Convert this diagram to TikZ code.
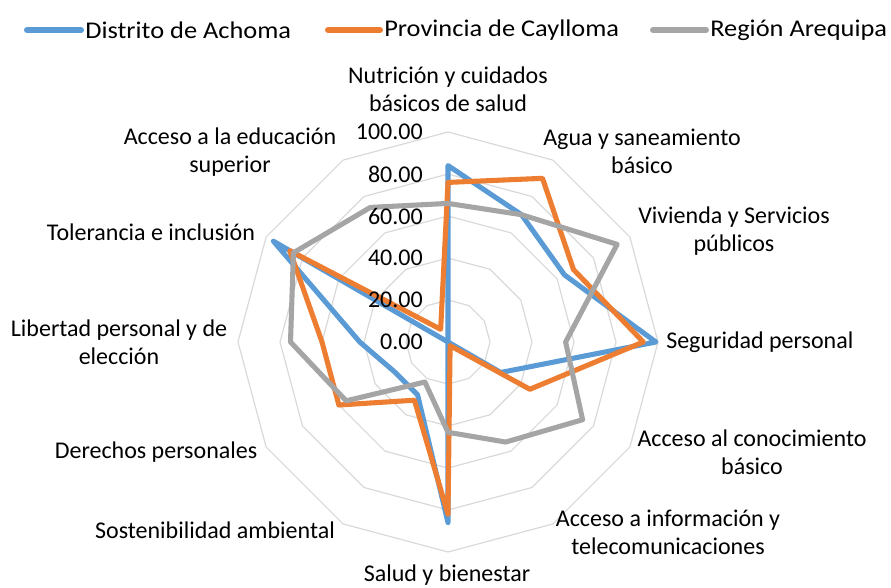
\documentclass[tikz,border=0pt]{standalone}
\usepackage{fontspec}
\setmainfont{Carlito}
\definecolor{achoma}{HTML}{5B9BD5}
\definecolor{caylloma}{HTML}{ED7D31}
\definecolor{arequipa}{HTML}{A5A5A5}
\definecolor{gridgray}{HTML}{D9D9D9}
\tikzset{
  gridring/.style={draw=gridgray, line width=0.9pt},
  serie/.style={draw=#1, line width=3.8pt, line join=round, line cap=round},
  legline/.style={draw=#1, line width=4.5pt, line cap=round},
  txt/.style={inner sep=0pt, font=\fontsize{18}{21}\selectfont},
  axislabel/.style={txt, align=center},
  ticklabel/.style={txt, anchor=east},
}
\newcommand{\legtext}[1]{\scalebox{1.1}[1]{#1}}
\begin{document}
\begin{tikzpicture}[x=0.75pt, y=-0.75pt]
    \useasboundingbox (0,0) rectangle (891,587);
    % legend
    \coordinate (legA) at (27,30);
    \coordinate (legC) at (328,30);
    \coordinate (legR) at (653,30);
    \node[txt, anchor=west] (legAtext) at (85,30) {\legtext{Distrito de Achoma}};
    \node[txt, anchor=west] (legCtext) at (384,30) {\legtext{Provincia de Caylloma}};
    \node[txt, anchor=west] (legRtext) at (710,30) {\legtext{Región Arequipa}};
    \draw[legline=achoma] (legA) -- ([xshift=-3pt]legAtext.west);
    \draw[legline=caylloma] (legC) -- ([xshift=-3pt]legCtext.west);
    \draw[legline=arequipa] (legR) -- ([xshift=-3pt]legRtext.west);
    \begin{scope}[shift={(448,342)}]
        % grid rings
        \foreach \r in {20,40,...,100}
            \draw[gridring] (-90:\r*2.1) \foreach \k in {1,...,11} {-- ({-90+30*\k}:{\r*2.1})} -- cycle;
        % series
        \draw[serie=achoma] (-90:84*2.1) \foreach \v [count=\k] in {70,64,99,29,0,86,29,29,42,96,0} {-- ({-90+30*\k}:{\v*2.1})} -- cycle;
        \draw[serie=caylloma] (-90:76*2.1) \foreach \v [count=\k] in {90,69,93,45,2,82,32,60,60,87,7} {-- ({-90+30*\k}:{\v*2.1})} -- cycle;
        \draw[serie=arequipa] (-90:66*2.1) \foreach \v [count=\k] in {70,93,56,74,55,43,22,56,75,85,74} {-- ({-90+30*\k}:{\v*2.1})} -- cycle;
        % tick labels
        \foreach \r/\t in {0/0.00,20/20.00,40/40.00,60/60.00,80/80.00,100/100.00}
            \node[ticklabel] (tick\r) at (-25,-\r*2.1) {\t};
    \end{scope}
    % axis labels
    \node[axislabel] (nutricion) at (448,89) {Nutrición y cuidados\\básicos de salud};
    \node[axislabel] (agua) at (642,151) {Agua y saneamiento\\básico};
    \node[axislabel] (vivienda) at (734,231) {Vivienda y Servicios\\públicos};
    \node[txt, anchor=west] (seguridad) at (666,342) {Seguridad personal};
    \node[axislabel] (conocimiento) at (752,452) {Acceso al conocimiento\\básico};
    \node[axislabel] (informacion) at (668,532) {Acceso a información y\\telecomunicaciones};
    \node[axislabel] (salud) at (447,575) {Salud y bienestar};
    \node[axislabel] (sostenibilidad) at (215,530) {Sostenibilidad ambiental};
    \node[axislabel] (derechos) at (156,452) {Derechos personales};
    \node[axislabel] (libertad) at (119,342) {Libertad personal y de\\elección};
    \node[axislabel] (tolerancia) at (151,232) {Tolerancia e inclusión};
    \node[axislabel] (educacion) at (230,152) {Acceso a la educación\\superior};
\end{tikzpicture}
\end{document}
